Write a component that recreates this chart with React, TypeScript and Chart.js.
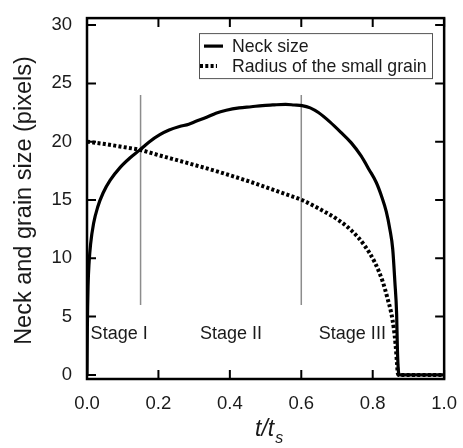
import React, { useEffect, useRef } from "react";
import { Chart, registerables } from "chart.js";

Chart.register(...registerables);

// ---- data ----
const seriesLabels = ["Neck size", "Radius of the small grain"];

const neckT = [
  0, 0.001, 0.003, 0.006, 0.01, 0.0185, 0.03, 0.045, 0.065, 0.093, 0.12, 0.148, 0.175, 0.204,
  0.23, 0.259, 0.285, 0.305, 0.335, 0.361, 0.39, 0.426, 0.46, 0.491, 0.52, 0.556, 0.58, 0.602,
  0.625, 0.648, 0.68, 0.711, 0.74, 0.767, 0.79, 0.81, 0.825, 0.838, 0.848, 0.856, 0.862, 0.867,
  0.869, 0.872, 0.875, 1.0,
];
const neckV = [
  0, 4, 7.6, 9.7, 11.2, 13.0, 14.4, 15.6, 16.7, 17.8, 18.6, 19.3, 20.0, 20.6,
  21.0, 21.3, 21.5, 21.75, 22.1, 22.45, 22.7, 22.9, 23.0, 23.1, 23.15, 23.2, 23.15, 23.1,
  22.9, 22.5, 21.7, 20.8, 19.9, 18.8, 17.6, 16.5, 15.3, 14.0, 12.5, 10.8, 8.0, 5.2,
  2.4, 0.3, 0, 0,
];

const radiusT = [
  0, 0.05, 0.1, 0.148, 0.2, 0.278, 0.37, 0.463, 0.556, 0.602, 0.647, 0.703, 0.74, 0.777,
  0.805, 0.828, 0.842, 0.852, 0.859, 0.864, 0.868, 0.87, 0.873, 1.0,
];
const radiusV = [
  20.0, 19.8, 19.55, 19.3, 18.85, 18.2, 17.4, 16.5, 15.5, 15.0, 14.3, 13.3, 12.4, 11.1,
  9.7, 8.0, 6.5, 5.3, 4.0, 2.6, 1.0, 0.2, 0, 0,
];

const stageLineT = [0.15, 0.6];
const stageLineFrom = 6;
const stageLineTo = 24;

const stageLabels = ["Stage I", "Stage II", "Stage III"];
const stageLabelT = [0.09, 0.403, 0.743];
const stageLabelY = 3.5;

const xTicks = [0, 0.2, 0.4, 0.6, 0.8, 1.0];
const yTicks = [0, 5, 10, 15, 20, 25, 30];

const FONT = "'Liberation Sans', Arial, sans-serif";
const TEXT = "#1a1a1a";

const decor = {
  id: "decor",
  afterDatasetsDraw(chart: any) {
    const { ctx, chartArea: a, scales } = chart;
    const x = scales.x;
    const y = scales.y;
    ctx.save();

    // frame
    ctx.strokeStyle = "#000";
    ctx.lineWidth = 2.5;
    ctx.strokeRect(a.left, a.top, a.right - a.left, a.bottom - a.top);

    // inward ticks on all four sides
    const L = 9;
    ctx.lineWidth = 2;
    ctx.beginPath();
    xTicks.forEach((v) => {
      const px = x.getPixelForValue(v);
      ctx.moveTo(px, a.bottom);
      ctx.lineTo(px, a.bottom - L);
      ctx.moveTo(px, a.top);
      ctx.lineTo(px, a.top + L);
    });
    yTicks.forEach((v) => {
      const py = y.getPixelForValue(v);
      ctx.moveTo(a.left, py);
      ctx.lineTo(a.left + L, py);
      ctx.moveTo(a.right, py);
      ctx.lineTo(a.right - L, py);
    });
    ctx.stroke();

    // stage labels
    ctx.fillStyle = TEXT;
    ctx.font = `18px ${FONT}`;
    ctx.textAlign = "center";
    ctx.textBaseline = "middle";
    stageLabels.forEach((s, i) => {
      ctx.fillText(s, x.getPixelForValue(stageLabelT[i]), y.getPixelForValue(stageLabelY));
    });

    // legend
    const lx = a.left + 112;
    const ly = a.top + 15;
    const lw = 233;
    const lh = 45;
    ctx.fillStyle = "#fff";
    ctx.fillRect(lx, ly, lw, lh);
    ctx.strokeStyle = "#555";
    ctx.lineWidth = 1;
    ctx.strokeRect(lx + 0.5, ly + 0.5, lw, lh);
    const ds = chart.data.datasets;
    const rows = [ly + 13, ly + 33];
    [0, 1].forEach((i) => {
      const d = ds[i];
      ctx.strokeStyle = d.borderColor;
      ctx.lineWidth = d.borderWidth;
      ctx.setLineDash(d.borderDash || []);
      ctx.beginPath();
      if (i === 0) {
        ctx.moveTo(lx + 5, rows[i]);
        ctx.lineTo(lx + 24, rows[i]);
      } else {
        ctx.moveTo(lx + 1, rows[i]);
        ctx.lineTo(lx + 18, rows[i]);
      }
      ctx.stroke();
      ctx.setLineDash([]);
      ctx.fillStyle = TEXT;
      ctx.font = `17.7px ${FONT}`;
      ctx.textAlign = "left";
      ctx.textBaseline = "middle";
      ctx.fillText(d.label, lx + 33, rows[i] + 1);
    });

    // y title
    ctx.save();
    ctx.translate(25, (a.top + a.bottom) / 2 + 2);
    ctx.rotate(-Math.PI / 2);
    ctx.font = `23.5px ${FONT}`;
    ctx.textAlign = "center";
    ctx.textBaseline = "middle";
    ctx.fillStyle = TEXT;
    ctx.fillText("Neck and grain size (pixels)", 0, 0);
    ctx.restore();

    // x title t/t_s
    ctx.fillStyle = TEXT;
    ctx.textBaseline = "alphabetic";
    ctx.textAlign = "left";
    ctx.font = `italic 23px ${FONT}`;
    const main = "t/t";
    const wMain = ctx.measureText(main).width;
    ctx.font = `italic 16px ${FONT}`;
    const wSub = ctx.measureText("s").width;
    const cx = (a.left + a.right) / 2 + 3;
    const startX = cx - (wMain + wSub) / 2;
    ctx.font = `italic 23px ${FONT}`;
    ctx.fillText(main, startX, 436);
    ctx.font = `italic 16px ${FONT}`;
    ctx.fillText("s", startX + wMain + 1, 443);

    ctx.restore();
  },
};

export default function App() {
  const ref = useRef<HTMLCanvasElement | null>(null);

  useEffect(() => {
    if (!ref.current) return;
    const datasets: any[] = [
      {
        label: seriesLabels[0],
        data: neckT.map((t, i) => ({ x: t, y: neckV[i] })),
        borderColor: "#000",
        borderWidth: 3.2,
        pointRadius: 0,
        cubicInterpolationMode: "monotone",
        order: 1,
      },
      {
        label: seriesLabels[1],
        data: radiusT.map((t, i) => ({ x: t, y: radiusV[i] })),
        borderColor: "#000",
        borderWidth: 4,
        borderDash: [3, 2.3],
        pointRadius: 0,
        cubicInterpolationMode: "monotone",
        order: 2,
      },
      ...stageLineT.map((t) => ({
        label: "",
        data: [
          { x: t, y: stageLineFrom },
          { x: t, y: stageLineTo },
        ],
        borderColor: "#8c8c8c",
        borderWidth: 1.5,
        pointRadius: 0,
        order: 3,
      })),
    ];

    const chart = new Chart(ref.current, {
      type: "line",
      data: { datasets },
      options: {
        animation: false,
        responsive: false,
        devicePixelRatio: 1,
        layout: { padding: { top: 11, right: 16, left: 0, bottom: 0 } },
        plugins: { legend: { display: false }, tooltip: { enabled: false } },
        scales: {
          x: {
            type: "linear",
            min: 0,
            max: 1,
            grid: { display: false },
            border: { display: false },
            afterBuildTicks: (s: any) => {
              s.ticks = xTicks.map((v) => ({ value: v }));
            },
            afterFit: (s: any) => {
              s.height = 69;
            },
            ticks: {
              color: TEXT,
              font: { family: FONT, size: 18.5 },
              padding: 6,
              maxRotation: 0,
              callback: (v: any) => Number(v).toFixed(1),
            },
          },
          y: {
            type: "linear",
            min: -0.35,
            max: 30.6,
            grid: { display: false },
            border: { display: false },
            afterBuildTicks: (s: any) => {
              s.ticks = yTicks.map((v) => ({ value: v }));
            },
            afterFit: (s: any) => {
              s.width = 87;
            },
            ticks: {
              color: TEXT,
              font: { family: FONT, size: 18.5 },
              padding: 7,
              callback: (v: any) => String(v),
            },
          },
        },
      } as any,
      plugins: [decor],
    });
    return () => chart.destroy();
  }, []);

  return (
    <div style={{ position: "absolute", left: 0, top: 0, width: 463, height: 448, background: "#fff" }}>
      <canvas ref={ref} width={463} height={448} />
    </div>
  );
}
